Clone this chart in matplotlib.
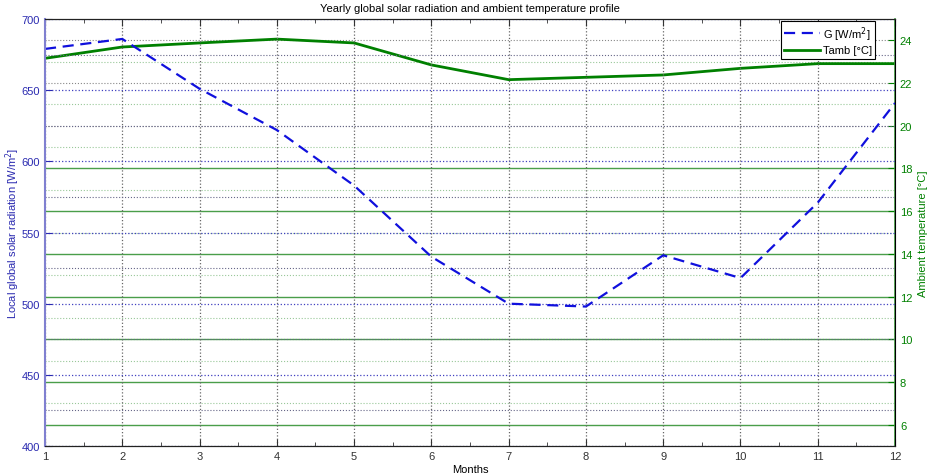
import matplotlib
matplotlib.use('Agg')
import matplotlib.pyplot as plt
from matplotlib.ticker import MultipleLocator

plt.rcParams['font.family'] = ['Liberation Sans', 'DejaVu Sans']
plt.rcParams['font.size'] = 8

# Données
months = [1, 2, 3, 4, 5, 6, 7, 8, 9, 10, 11, 12]
G = [679, 686, 651, 622, 583, 533, 500, 498, 534, 518, 571, 641]
Tamb = [23.16, 23.69, 23.88, 24.06, 23.88, 22.85, 22.16, 22.27, 22.38, 22.69, 22.91, 22.91]

green = '#008000'

fig = plt.figure(figsize=(9.3, 4.77), dpi=100)
ax1 = fig.add_axes([0.0484, 0.0629, 0.914, 0.8951])
ax2 = ax1.twinx()

# axe de gauche au-dessus, fond transparent
ax1.set_zorder(ax2.get_zorder() + 1)
ax1.patch.set_visible(False)

l1, = ax1.plot(months, G, '--', color='#1010dd', lw=1.6, dashes=(5, 3), label='G [W/m$^2$]')
l2, = ax2.plot(months, Tamb, '-', color=green, lw=2.0, label='Tamb [°C]')

ax1.set_xlim(1, 12)
ax1.set_ylim(400, 700)
ax2.set_ylim(5, 25)

ax1.set_xticks(months)
ax1.xaxis.set_minor_locator(MultipleLocator(0.5))
ax1.set_yticks(range(400, 701, 50))
ax1.yaxis.set_minor_locator(MultipleLocator(25))
ax2.set_yticks(range(6, 25, 2))
ax2.yaxis.set_minor_locator(MultipleLocator(1))

ax1.tick_params(axis='x', which='both', direction='in', top=True, colors='#333333')
ax1.tick_params(axis='x', which='major', length=5)
ax1.tick_params(axis='x', which='minor', length=3)
ax1.tick_params(axis='y', which='major', direction='in', length=5, colors='#2a2ab0')
ax1.tick_params(axis='y', which='minor', length=0)
ax2.tick_params(axis='y', which='major', direction='in', length=5, colors=green)
ax2.tick_params(axis='y', which='minor', length=0)

# grilles
ax1.grid(True, axis='x', which='major', ls=':', color='#666666', lw=0.9)
ax1.grid(True, axis='y', which='major', ls=':', color='#4040c0', lw=0.9)
ax1.grid(True, axis='y', which='minor', ls=':', color='#666688', lw=0.8)
ax2.grid(True, axis='y', which='major', color='#4a9e4a', lw=1.0)
ax2.grid(True, axis='y', which='minor', ls=':', color='#99c899', lw=0.8)
for val, gl in zip(ax2.get_yticks(), ax2.get_ygridlines()):
    if val >= 20:
        gl.set_linestyle(':')
        gl.set_color('#888888')
        gl.set_linewidth(0.8)

for s in ['top', 'bottom']:
    ax1.spines[s].set_color('#222222')
ax1.spines['left'].set_color('#8080d0')
ax1.spines['left'].set_linewidth(1.5)
ax2.spines['right'].set_color('#40a040')
ax2.spines['right'].set_linewidth(1.2)
ax2.spines['left'].set_visible(False)

ax1.set_xlabel('Months', labelpad=2)
ax1.set_ylabel('Local global solar radiation [W/m$^2$]', color='#2a2ab0')
ax1.yaxis.set_label_coords(-0.027, 0.5)
ax2.set_ylabel('Ambient temperature [°C]', color=green, labelpad=4)
ax1.set_title('Yearly global solar radiation and ambient temperature profile', fontsize=8, pad=6)

leg = ax1.legend([l1, l2], [l1.get_label(), l2.get_label()], loc='upper right',
                 bbox_to_anchor=(0.977, 0.996), fancybox=False, edgecolor='black',
                 framealpha=1, fontsize=8, handlelength=3.2, handletextpad=0.3,
                 labelspacing=0.25, borderaxespad=0.0, borderpad=0.3)
leg.get_frame().set_linewidth(0.8)

fig.savefig('out.png', dpi=100)
